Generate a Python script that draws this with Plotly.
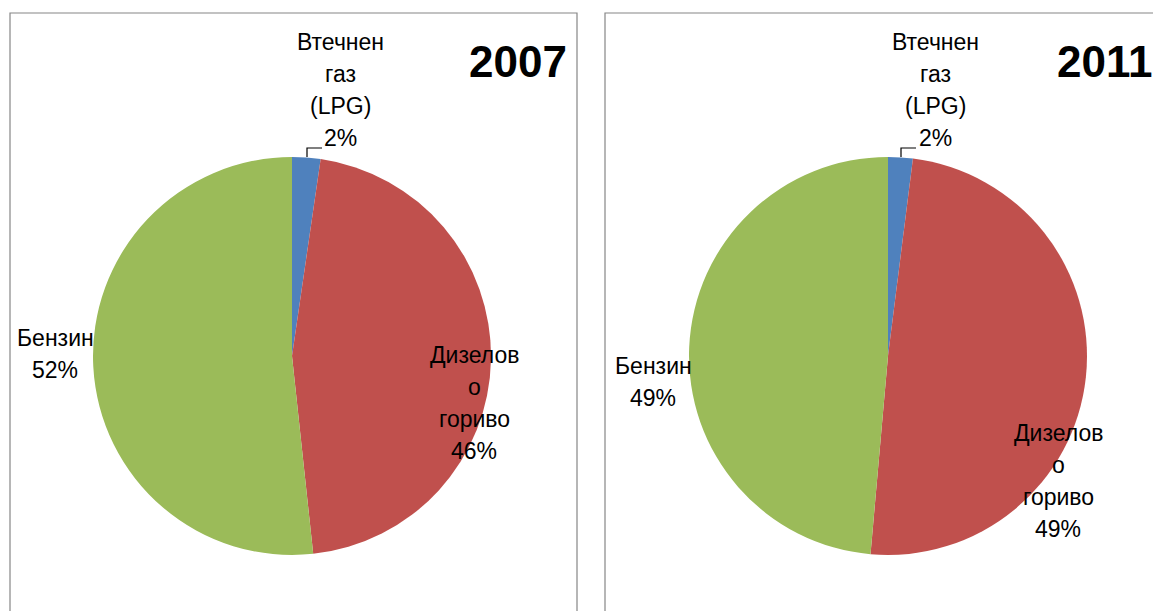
import plotly.graph_objects as go

# share of fuel type, %
fuels = ["Втечнен газ (LPG)", "Дизелово гориво", "Бензин"]
share_2007 = [2.3, 46.0, 51.7]
share_2011 = [2.0, 49.4, 48.6]
years = ["2007", "2011"]

colors = ["#4F81BD", "#C0504D", "#9BBB59"]

# the page body has an 8px margin, so window positions are shifted by it
OFF = 8
W, H = 1161 - OFF, 611 - OFF
FONT = "Liberation Sans"


def px(x, y):
    # window pixel position -> paper coords
    return (x - OFF) / W, 1 - (y - OFF) / H


def pie_domain(cx, cy, r):
    x0, y1 = px(cx - r, cy - r)
    x1, y0 = px(cx + r, cy + r)
    return dict(x=[x0, x1], y=[y0, y1])


fig = go.Figure()
fig.add_trace(go.Pie(
    labels=fuels, values=share_2007, domain=pie_domain(292, 356, 199),
    sort=False, direction="clockwise", rotation=0,
    marker=dict(colors=colors, line=dict(width=0)),
    textinfo="none", hoverinfo="label+percent", showlegend=False,
))
fig.add_trace(go.Pie(
    labels=fuels, values=share_2011, domain=pie_domain(888, 356, 199),
    sort=False, direction="clockwise", rotation=0,
    marker=dict(colors=colors, line=dict(width=0)),
    textinfo="none", hoverinfo="label+percent", showlegend=False,
))

# data label text, split the way Excel wrapped it
label_lines = [["Втечнен", "газ", "(LPG)"], ["Дизелов", "о", "гориво"], ["Бензин"]]
label_pos = {
    "2007": [(340, 42), (474, 355), (55, 338)],
    "2011": [(935, 42), (1058, 433), (653, 366)],
}

annotations = []
for yr, vals in zip(years, [share_2007, share_2011]):
    for lines, v, (lx, ly) in zip(label_lines, vals, label_pos[yr]):
        for i, t in enumerate(lines + [f"{round(v)}%"]):
            x, y = px(lx, ly + i * 32)
            annotations.append(dict(
                x=x, y=y, xref="paper", yref="paper", text=t, showarrow=False,
                xanchor="center", yanchor="middle",
                font=dict(family=FONT, size=23, color="#000000"),
            ))

for yr, cx in zip(years, [518, 1104]):
    x, y = px(cx, 61)
    annotations.append(dict(
        x=x, y=y, xref="paper", yref="paper", text=f"<b>{yr}</b>", showarrow=False,
        xanchor="center", yanchor="middle",
        font=dict(family=FONT, size=44, color="#000000"),
    ))

shapes = []
# chart borders
for x0, x1 in [(10, 577), (605, 1250)]:
    a, top = px(x0, 13)
    b, _ = px(x1, 13)
    shapes.append(dict(type="rect", xref="paper", yref="paper", x0=a, x1=b, y0=-0.2, y1=top,
                       line=dict(color="#868686", width=1.2)))
# LPG leader lines
for lx in [307, 901]:
    p0 = px(lx, 157)
    p1 = px(lx, 148)
    p2 = px(lx + 15, 148)
    shapes.append(dict(type="path", xref="paper", yref="paper",
                       path=f"M {p0[0]} {p0[1]} L {p1[0]} {p1[1]} L {p2[0]} {p2[1]}",
                       line=dict(color="#000000", width=1.2)))

fig.update_layout(
    width=W, height=H,
    margin=dict(l=0, r=0, t=0, b=0),
    paper_bgcolor="white",
    plot_bgcolor="white",
    annotations=annotations,
    shapes=shapes,
    showlegend=False,
)

fig.write_html("out.html")
